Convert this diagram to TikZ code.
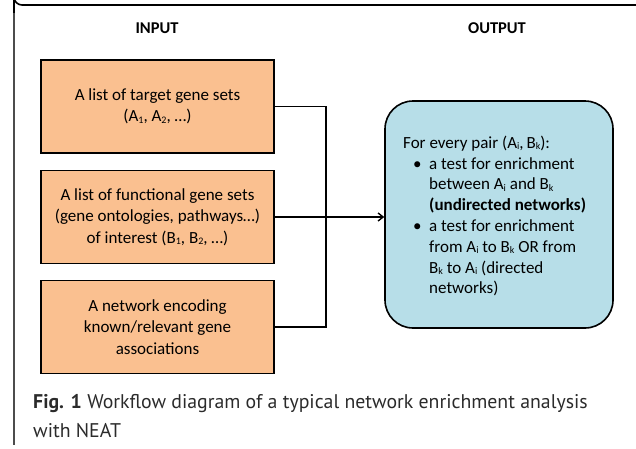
\documentclass[tikz,border=0pt]{standalone}
\usepackage{fontspec}
\setmainfont{Carlito}
\newfontfamily\capfont{PT Sans}
\usetikzlibrary{arrows.meta}

\definecolor{inbox}{HTML}{FAC090}
\definecolor{outbox}{HTML}{B7DEE8}
\definecolor{capgray}{HTML}{2B2B2B}

% small lowered index letters/digits
\newcommand\gsub[1]{\raisebox{-1.2pt}{\fontsize{10}{10}\selectfont #1}}

\tikzset{
  inputbox/.style={draw=black, line width=1.6pt, fill=inbox,
    minimum width=233pt, minimum height=93pt, inner sep=0pt,
    align=center, font=\fontsize{17}{21.5}\selectfont},
  outputbox/.style={draw=black, line width=1.6pt, fill=outbox,
    rounded corners=28pt, minimum width=228pt, minimum height=227pt, inner sep=0pt},
  header/.style={font=\fontsize{16.5}{20}\selectfont\bfseries, inner sep=0pt},
  wire/.style={line width=1.5pt, draw=black},
}

\begin{document}
\begin{tikzpicture}[x=1pt, y=-1pt]
\useasboundingbox (0,0) rectangle (636,448);

% frame, only its top and left edges are visible
\draw[line width=1.6pt, black] (636,5) -- (22,5) arc[start angle=90, end angle=180, radius=8] -- (14,13);
\draw[line width=1.1pt, black!70] (14,13) -- (14,445);

% column headings
\node[header] (hin) at (157,28) {INPUT};
\node[header] (hout) at (497,28) {OUTPUT};

% input boxes
\node[inputbox] (b1) at (157.5,106.5) {A list of target gene sets\\(A\gsub{1}, A\gsub{2}, …)};
\node[inputbox] (b2) at (157.5,217) {A list of functional gene sets\\(gene ontologies, pathways…)\\of interest (B\gsub{1}, B\gsub{2}, …)};
\node[inputbox] (b3) at (157.5,327) {A network encoding\\known/relevant gene\\associations};

% output box
\node[outputbox] (out) at (499,214.5) {};
\node[anchor=west, inner sep=0pt, align=left, font=\fontsize{17}{20.8}\selectfont] (outtext) at (403,216) {%
For every pair (A\gsub{i},\,B\gsub{k}):\\
\hspace*{10pt}\makebox[16pt][l]{•}a test for enrichment\\
\hspace*{26pt}between A\gsub{i} and B\gsub{k}\\
\hspace*{26pt}\textbf{(undirected networks)}\\
\hspace*{10pt}\makebox[16pt][l]{•}a test for enrichment\\
\hspace*{26pt}from A\gsub{i} to B\gsub{k} OR from\\
\hspace*{26pt}B\gsub{k} to A\gsub{i} (directed\\
\hspace*{26pt}networks)};

% connectors
\coordinate (bus) at (326,217);
\draw[wire] (b1.east) -| (bus) |- (b3.east);
\draw[wire, -{Straight Barb[length=5pt, width=8pt, line width=1.4pt]}] (b2.east) -- (out.west |- b2.east);

% caption (base anchor sits on the last line)
\node[anchor=base west, inner sep=0pt, align=left, text=capgray,
      font=\capfont\fontsize{19.8}{28.5}\selectfont] (cap) at (33,437)
  {\textbf{Fig. 1} Workflow diagram of a typical network enrichment analysis\\with NEAT};
\end{tikzpicture}
\end{document}
